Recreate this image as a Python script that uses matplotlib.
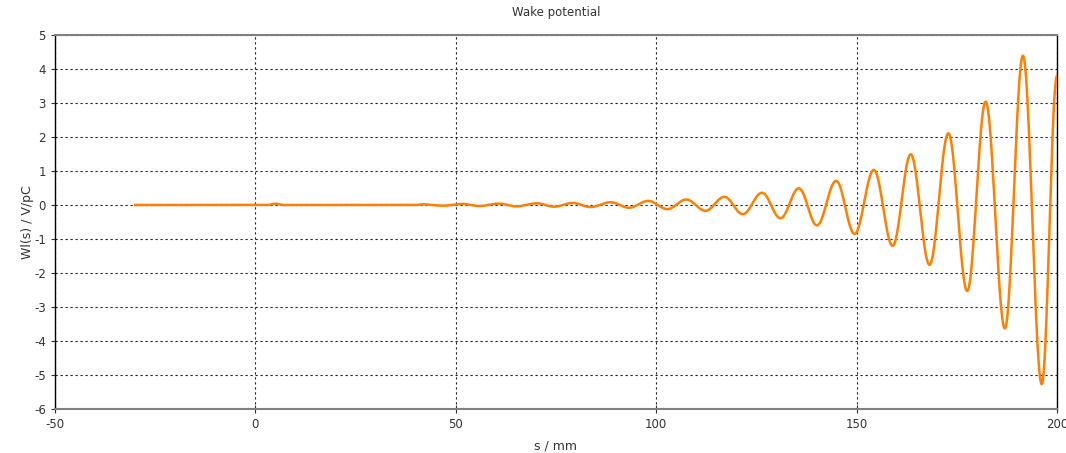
import numpy as np
import matplotlib
matplotlib.use('Agg')
import matplotlib.pyplot as plt

plt.rcParams['axes.unicode_minus'] = False

# Wake potential: flat start, small bump near s=5, then a growing oscillation.
# Knots are (s in mm, W in V/pC): start/end points and the extrema of the wave.
s_knots = [-30.0, 3.0, 5.0, 7.0, 40.0, 41.7, 46.7, 51.7, 55.8, 60.8, 65.0, 70.3,
           74.5, 79.2, 83.6, 88.6, 93.2, 98.0, 102.8, 107.5, 112.3, 117.0, 121.6,
           126.4, 131.0, 135.6, 140.1, 144.9, 149.5, 154.3, 159.0, 163.5, 168.2,
           172.9, 177.6, 182.2, 187.0, 191.5, 196.2, 200.0]
w_knots = [0.0, 0.0, 0.04, 0.0, 0.0, 0.02, -0.02, 0.03, -0.03, 0.04, -0.04, 0.05,
           -0.05, 0.06, -0.06, 0.08, -0.08, 0.12, -0.12, 0.16, -0.17, 0.24, -0.27,
           0.36, -0.39, 0.49, -0.60, 0.71, -0.85, 1.03, -1.20, 1.49, -1.76,
           2.11, -2.53, 3.04, -3.63, 4.39, -5.27, 3.80]

x_ticks = [-50, 0, 50, 100, 150, 200]
y_ticks = [-6, -5, -4, -3, -2, -1, 0, 1, 2, 3, 4, 5]

# half-cosine segments between successive knots give a smooth wave
s_line, w_line = [], []
for i in range(len(s_knots) - 1):
    t = np.linspace(0, 1, 40, endpoint=False)
    ease = (1 - np.cos(np.pi * t)) / 2
    s_line.extend(s_knots[i] + (s_knots[i + 1] - s_knots[i]) * t)
    w_line.extend(w_knots[i] + (w_knots[i + 1] - w_knots[i]) * ease)
s_line.append(s_knots[-1])
w_line.append(w_knots[-1])

fig = plt.figure(figsize=(10.66, 4.53), dpi=100)
ax = fig.add_axes([55 / 1066, 1 - 409 / 453, 1002 / 1066, 374 / 453])

ax.plot(s_line, w_line, color='#ff8000', lw=1.8, zorder=3)

ax.set_xlim(-50, 200)
ax.set_ylim(-6, 5)
ax.set_xticks(x_ticks)
ax.set_yticks(y_ticks)
ax.grid(True, color='#222222', linestyle=(0, (2, 2.5)), linewidth=0.8)
ax.tick_params(labelsize=8.5, colors='#333333', length=3, width=0.8)
ax.tick_params(axis='x', direction='inout', length=6)

for side in ['left', 'right']:
    ax.spines[side].set_color('black')
    ax.spines[side].set_linewidth(1.0)
for side in ['top', 'bottom']:
    ax.spines[side].set_color('#808080')
    ax.spines[side].set_linewidth(1.5)

ax.set_xlabel('s / mm', fontsize=9, color='#333333', labelpad=6)
ax.set_ylabel('Wl(s) / V/pC', fontsize=9, color='#333333', labelpad=0)
ax.set_title('Wake potential', fontsize=8.5, color='#333333', pad=14)

fig.savefig('out.png', dpi=100)
